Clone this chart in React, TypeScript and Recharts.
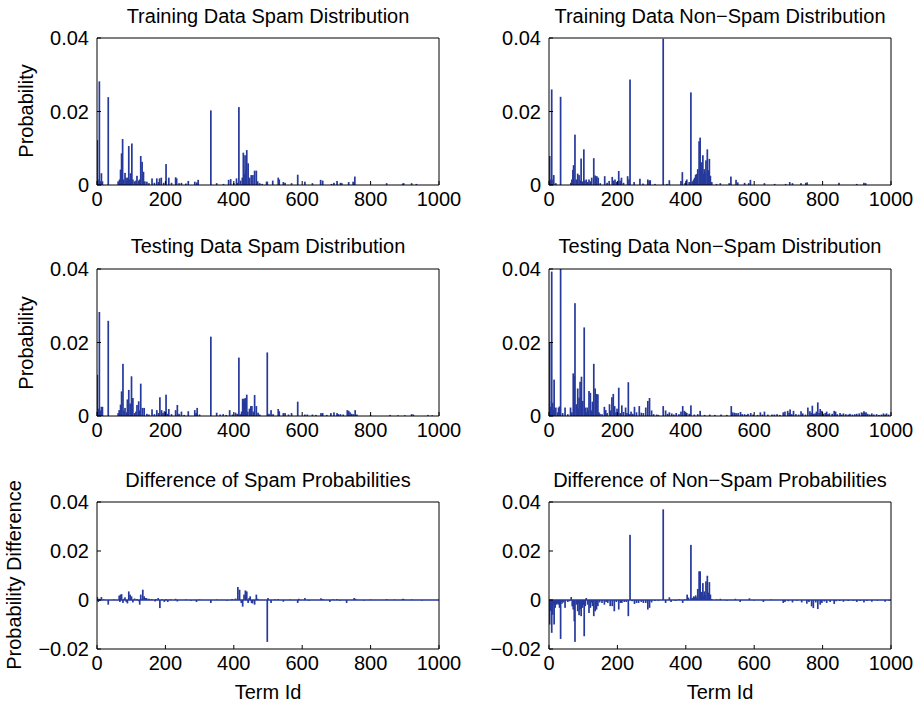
import React from 'react';
import { BarChart, Bar, XAxis, YAxis, ReferenceLine } from 'recharts';

// ---------- axis ticks ----------
const termTicks = [0, 200, 400, 600, 800, 1000];
const probTicks = [0, 0.02, 0.04];
const diffTicks = [-0.02, 0, 0.02, 0.04];

// ---------- titles ----------
const titles = [
  'Training Data Spam Distribution',
  'Training Data Non\u2212Spam Distribution',
  'Testing Data Spam Distribution',
  'Testing Data Non\u2212Spam Distribution',
  'Difference of Spam Probabilities',
  'Difference of Non\u2212Spam Probabilities',
];

// ---------- data (term id, probability) ----------
const trainSpamIds = [1, 3, 7, 10, 13, 16, 33, 62, 66, 69, 72, 75, 78, 82, 85, 88, 90, 93, 95, 98, 102, 105, 110, 114, 117, 122, 125, 128, 132, 136, 140, 146, 152, 161, 168, 175, 180, 183, 188, 195, 202, 210, 218, 230, 233, 240, 247, 260, 267, 286, 292, 296, 333, 350, 370, 385, 391, 400, 408, 412, 415, 420, 425, 428, 430, 433, 436, 438, 442, 446, 451, 456, 461, 466, 470, 476, 483, 496, 498, 514, 530, 533, 545, 550, 569, 587, 608, 630, 654, 660, 686, 693, 702, 712, 716, 736, 749, 754, 847, 894, 897, 920, 934];
const trainSpamValues = [0.0122, 0.0015, 0.0282, 0.001, 0.0032, 0.001, 0.0239, 0.001, 0.0015, 0.0042, 0.0086, 0.0125, 0.0015, 0.0033, 0.002, 0.0012, 0.002, 0.0106, 0.0015, 0.0032, 0.0113, 0.0015, 0.001, 0.0012, 0.0025, 0.0012, 0.0015, 0.0079, 0.0063, 0.0036, 0.001, 0.0009, 0.0005, 0.0018, 0.0006, 0.0018, 0.0008, 0.0018, 0.002, 0.0006, 0.0057, 0.002, 0.0006, 0.0021, 0.0018, 0.0005, 0.0006, 0.0004, 0.0011, 0.0009, 0.0007, 0.0014, 0.0203, 0.0005, 0.0003, 0.0014, 0.0016, 0.0005, 0.0018, 0.0006, 0.0212, 0.0012, 0.002, 0.0088, 0.003, 0.0081, 0.004, 0.0095, 0.0059, 0.002, 0.0027, 0.0027, 0.0039, 0.0039, 0.001, 0.0005, 0.0003, 0.0009, 0.0009, 0.0012, 0.002, 0.0015, 0.0008, 0.0006, 0.0005, 0.0028, 0.0009, 0.0005, 0.0014, 0.0012, 0.0003, 0.0006, 0.0011, 0.0006, 0.0005, 0.0008, 0.0009, 0.0023, 0.0005, 0.0004, 0.0005, 0.0005, 0.0003];

const trainNonSpamIds = [2, 5, 8, 12, 14, 20, 34, 64, 67, 70, 72, 76, 80, 84, 88, 91, 94, 98, 102, 105, 109, 113, 117, 121, 125, 131, 135, 140, 144, 150, 163, 170, 176, 185, 189, 193, 198, 204, 208, 212, 218, 230, 234, 237, 249, 266, 275, 289, 293, 296, 310, 334, 345, 352, 386, 390, 398, 403, 410, 415, 419, 423, 426, 429, 432, 435, 439, 442, 446, 450, 452, 454, 457, 459, 463, 466, 469, 472, 476, 490, 501, 527, 532, 547, 552, 572, 584, 589, 630, 660, 692, 704, 712, 737, 751, 755, 848, 900, 921, 926];
const trainNonSpamValues = [0.0079, 0.0015, 0.026, 0.0015, 0.0027, 0.0005, 0.024, 0.0006, 0.0015, 0.0041, 0.0054, 0.0137, 0.0015, 0.0031, 0.0027, 0.0012, 0.0072, 0.001, 0.0097, 0.0012, 0.0015, 0.0008, 0.0015, 0.001, 0.002, 0.0073, 0.0026, 0.0024, 0.002, 0.0005, 0.0024, 0.0006, 0.0011, 0.0022, 0.0012, 0.0015, 0.0008, 0.0038, 0.0012, 0.002, 0.0006, 0.0024, 0.0015, 0.0287, 0.0008, 0.0017, 0.0004, 0.0015, 0.0012, 0.0013, 0.0003, 0.0398, 0.0003, 0.0013, 0.0011, 0.0035, 0.0005, 0.0015, 0.0008, 0.0252, 0.001, 0.0015, 0.002, 0.0028, 0.003, 0.0043, 0.0119, 0.0129, 0.0062, 0.0081, 0.003, 0.0043, 0.0035, 0.0067, 0.0097, 0.004, 0.0071, 0.0025, 0.0008, 0.0003, 0.0005, 0.0005, 0.0023, 0.0014, 0.0007, 0.0006, 0.0005, 0.0014, 0.0005, 0.0003, 0.0003, 0.0008, 0.0005, 0.0005, 0.0006, 0.0007, 0.0006, 0.0003, 0.0006, 0.0005];

const testSpamIds = [1, 4, 7, 10, 13, 16, 33, 62, 65, 69, 72, 76, 79, 82, 86, 89, 93, 97, 101, 105, 110, 114, 117, 122, 125, 128, 133, 138, 146, 152, 161, 168, 175, 180, 184, 189, 193, 197, 202, 206, 210, 218, 230, 235, 240, 247, 255, 267, 286, 290, 293, 300, 333, 350, 360, 369, 378, 388, 396, 405, 410, 415, 419, 423, 426, 428, 430, 432, 434, 436, 438, 441, 446, 450, 453, 457, 461, 466, 471, 476, 498, 503, 509, 515, 530, 533, 545, 550, 560, 569, 587, 608, 615, 630, 640, 655, 660, 672, 684, 693, 702, 706, 712, 720, 732, 736, 740, 745, 750, 755, 760, 800, 857, 880, 900, 920, 925, 968, 980];
const testSpamValues = [0.0112, 0.002, 0.0283, 0.0015, 0.0025, 0.0025, 0.0259, 0.0008, 0.0016, 0.0031, 0.0067, 0.0142, 0.0015, 0.0022, 0.001, 0.0045, 0.0071, 0.0034, 0.0108, 0.0049, 0.0008, 0.0012, 0.003, 0.004, 0.0015, 0.0088, 0.0022, 0.0022, 0.0006, 0.0004, 0.0018, 0.0005, 0.0016, 0.0008, 0.0051, 0.0016, 0.0008, 0.0013, 0.0058, 0.0006, 0.0019, 0.0005, 0.0016, 0.003, 0.0006, 0.0012, 0.0003, 0.0013, 0.0016, 0.0008, 0.0022, 0.0004, 0.0216, 0.0009, 0.0004, 0.0005, 0.0003, 0.0016, 0.0004, 0.0009, 0.0006, 0.0159, 0.0005, 0.0012, 0.0047, 0.0045, 0.0047, 0.004, 0.0049, 0.003, 0.0058, 0.0012, 0.002, 0.0027, 0.0027, 0.0012, 0.0057, 0.0027, 0.0009, 0.0004, 0.0173, 0.0006, 0.0016, 0.0005, 0.0019, 0.0013, 0.0008, 0.0008, 0.0004, 0.0008, 0.0039, 0.0004, 0.0004, 0.0004, 0.0003, 0.0008, 0.0008, 0.0003, 0.0008, 0.001, 0.0008, 0.0005, 0.0005, 0.0004, 0.0016, 0.0014, 0.001, 0.0006, 0.0005, 0.0016, 0.0004, 0.0002, 0.0003, 0.0002, 0.0002, 0.0005, 0.0004, 0.0003, 0.0002];

const testNonSpamIds = [1, 2, 5, 8, 11, 13, 15, 17, 20, 25, 28, 31, 34, 40, 47, 55, 63, 67, 71, 74, 76, 80, 84, 86, 88, 91, 95, 97, 99, 103, 107, 110, 112, 115, 117, 121, 124, 127, 131, 135, 139, 143, 146, 149, 155, 162, 166, 170, 177, 180, 184, 188, 192, 196, 199, 204, 208, 213, 218, 224, 228, 232, 236, 240, 245, 250, 256, 264, 270, 276, 283, 289, 294, 300, 306, 315, 320, 334, 341, 347, 352, 359, 365, 372, 380, 386, 391, 396, 403, 410, 415, 425, 435, 442, 455, 470, 485, 503, 520, 533, 537, 542, 547, 553, 560, 565, 572, 578, 582, 590, 597, 610, 618, 624, 630, 640, 652, 659, 667, 675, 685, 690, 698, 702, 705, 710, 715, 722, 730, 737, 742, 750, 757, 763, 767, 770, 774, 778, 782, 786, 790, 793, 798, 803, 808, 812, 816, 820, 828, 834, 838, 843, 851, 856, 861, 868, 875, 880, 887, 894, 900, 907, 914, 918, 921, 924, 927, 932, 938, 944, 950, 958, 965, 972, 978, 983, 987, 993];
const testNonSpamValues = [0.004, 0.0199, 0.0025, 0.0393, 0.0036, 0.0015, 0.0099, 0.002, 0.0023, 0.001, 0.0023, 0.0026, 0.04, 0.0008, 0.0023, 0.0005, 0.0023, 0.001, 0.0116, 0.0108, 0.0307, 0.0032, 0.0075, 0.002, 0.005, 0.0093, 0.0107, 0.003, 0.0041, 0.0241, 0.0023, 0.001, 0.0023, 0.0015, 0.0068, 0.0063, 0.0015, 0.0039, 0.0142, 0.0075, 0.006, 0.0059, 0.001, 0.0006, 0.0005, 0.0025, 0.0016, 0.0008, 0.0032, 0.0015, 0.0051, 0.006, 0.0027, 0.001, 0.002, 0.0077, 0.0008, 0.0029, 0.0011, 0.0023, 0.0008, 0.0092, 0.0005, 0.0012, 0.0006, 0.0025, 0.001, 0.0027, 0.0009, 0.0008, 0.0023, 0.0041, 0.0049, 0.0015, 0.0005, 0.0004, 0.0003, 0.0027, 0.0015, 0.0006, 0.001, 0.0007, 0.0004, 0.0008, 0.0005, 0.0012, 0.0027, 0.0014, 0.0008, 0.0006, 0.0029, 0.0004, 0.0005, 0.0014, 0.0003, 0.0004, 0.0003, 0.0004, 0.0003, 0.0027, 0.001, 0.0009, 0.0008, 0.0008, 0.0011, 0.0005, 0.0005, 0.0003, 0.0006, 0.0008, 0.0004, 0.0003, 0.001, 0.0004, 0.0012, 0.0004, 0.0004, 0.0004, 0.0005, 0.0003, 0.001, 0.0012, 0.0014, 0.0008, 0.0018, 0.0005, 0.0014, 0.0005, 0.0004, 0.0013, 0.0007, 0.0004, 0.0023, 0.0013, 0.0008, 0.0028, 0.0006, 0.0007, 0.0012, 0.0037, 0.0008, 0.0019, 0.0014, 0.0006, 0.0008, 0.0012, 0.0005, 0.0007, 0.0006, 0.0014, 0.0012, 0.0005, 0.0008, 0.0004, 0.0007, 0.0005, 0.0004, 0.0006, 0.0004, 0.0005, 0.0006, 0.0007, 0.001, 0.0008, 0.0013, 0.0009, 0.001, 0.0006, 0.0004, 0.0007, 0.0004, 0.0005, 0.0003, 0.0004, 0.0007, 0.0004, 0.0007, 0.0004];

const diffSpamIds = [1, 4, 7, 10, 13, 20, 33, 50, 65, 67, 69, 72, 76, 79, 82, 86, 89, 93, 97, 101, 105, 110, 117, 122, 125, 128, 134, 138, 142, 145, 152, 160, 170, 172, 179, 184, 190, 197, 202, 207, 215, 230, 235, 260, 275, 291, 300, 333, 350, 380, 395, 405, 412, 417, 422, 426, 430, 434, 438, 442, 445, 448, 452, 455, 461, 466, 470, 498, 500, 509, 520, 530, 545, 565, 587, 590, 608, 620, 655, 660, 681, 690, 702, 710, 730, 752, 756, 780, 800, 847, 870, 894, 897, 920, 950];
const diffSpamValues = [0.0012, -0.0008, 0.0005, -0.0004, 0.0012, 0.0003, -0.0019, 0.0002, 0.0018, -0.0008, 0.0022, 0.0024, -0.0012, 0.0005, 0.0011, -0.0008, -0.0014, 0.0035, 0.0022, 0.0015, -0.001, 0.0006, 0.0004, -0.0005, -0.0019, 0.0022, 0.0042, 0.0015, 0.0008, 0.0008, 0.0005, 0.0004, -0.0006, 0.0004, 0.0008, -0.0033, 0.0003, -0.0008, 0.0004, -0.0008, 0.0003, 0.0005, -0.0006, 0.0002, -0.0003, -0.0008, 0.0002, -0.0012, 0.0002, -0.0003, 0.0004, 0.0006, 0.0053, 0.0042, -0.0012, -0.0027, 0.0022, 0.0039, 0.0035, -0.0012, 0.0008, 0.0015, -0.0012, -0.0014, -0.0019, 0.0022, 0.0005, -0.0171, 0.0008, -0.0012, 0.0003, 0.0004, -0.0007, 0.0002, -0.0012, 0.0005, 0.0008, -0.0003, 0.0007, 0.0004, -0.0008, 0.0003, 0.0004, -0.0003, -0.0012, 0.0008, 0.0005, -0.0002, 0.0002, 0.0004, 0.0002, 0.0005, 0.0004, 0.0002, -0.0002];

const diffNonSpamIds = [1, 2, 5, 8, 11, 13, 15, 18, 22, 25, 28, 31, 34, 38, 42, 47, 55, 60, 65, 68, 71, 74, 76, 80, 84, 86, 88, 91, 94, 98, 101, 103, 106, 109, 113, 117, 121, 124, 127, 131, 135, 139, 143, 148, 155, 162, 167, 172, 179, 185, 191, 197, 204, 209, 213, 220, 226, 232, 237, 243, 250, 256, 262, 270, 276, 283, 289, 294, 300, 310, 320, 334, 341, 352, 357, 370, 380, 391, 398, 404, 408, 415, 419, 423, 426, 429, 432, 435, 439, 442, 446, 450, 452, 454, 457, 459, 463, 466, 469, 472, 476, 490, 501, 520, 545, 559, 586, 600, 627, 650, 685, 690, 700, 712, 725, 739, 754, 760, 768, 773, 780, 786, 793, 798, 805, 812, 822, 834, 840, 850, 861, 875, 890, 900, 910, 921, 930, 944, 960, 983, 995];
const diffNonSpamValues = [-0.004, -0.01, -0.0045, -0.0134, -0.006, -0.002, -0.01, -0.0032, -0.0019, -0.0015, -0.0019, -0.0032, -0.0159, -0.0015, -0.001, -0.0032, -0.0008, -0.0005, 0.0012, -0.0026, -0.0039, -0.0087, -0.0171, -0.0019, -0.0046, -0.0015, -0.0062, -0.0039, -0.0066, -0.0032, -0.002, -0.0148, -0.0025, 0.0008, -0.0019, -0.0053, -0.0032, -0.001, -0.0025, -0.0066, -0.0046, -0.0039, -0.0025, -0.001, -0.0012, -0.0019, -0.0008, -0.0012, -0.0025, -0.0025, -0.0046, -0.0008, -0.0039, -0.0012, -0.0012, -0.0008, -0.0008, -0.0066, 0.0266, -0.0005, -0.0016, -0.0012, -0.0012, -0.0008, -0.0012, -0.0012, -0.0039, -0.0032, -0.001, -0.0004, -0.0003, 0.037, -0.0012, 0.0011, -0.0008, -0.0004, 0.0003, -0.0012, 0.0003, 0.0022, 0.001, 0.0225, 0.0008, 0.0015, 0.0012, 0.0019, 0.001, 0.0045, 0.0117, 0.0117, 0.0033, 0.0069, 0.0018, 0.0035, 0.002, 0.0076, 0.0099, 0.003, 0.0073, 0.0022, 0.0004, 0.0003, 0.0005, -0.0003, 0.0005, -0.0008, 0.0007, -0.0002, -0.0008, 0.0002, -0.0012, -0.0008, -0.0005, -0.001, -0.0003, -0.001, -0.0015, -0.0008, -0.0026, -0.0033, -0.001, -0.0037, -0.0019, -0.0012, -0.0006, -0.0012, -0.0008, -0.0016, -0.0005, -0.0004, -0.0007, -0.0004, -0.0003, -0.0008, -0.0004, -0.001, -0.0004, -0.0007, -0.0003, -0.0007, -0.0003];

// ---------- helpers ----------
const BLUE = '#26399c';
const FONT = '"Liberation Sans", Arial, Helvetica, sans-serif';
const toRows = (ids: number[], values: number[]) => ids.map((id, i) => ({ term: id, p: values[i] }));
const fmtY = (v: number) => (v === 0 ? '0' : v < 0 ? '\u2212' + Math.abs(v).toFixed(2) : v.toFixed(2));

const COL_LEFT = [97, 549];
const ROW_TOP = [38, 269, 502];
const PLOT_W = 342;
const PLOT_H = 147;
const YW = 80;
const XH = 40;
const MT = 16;
const MR = 30;
const SPIKE_W = 1.7;

// Spike shape: keeps the x/y/height computed by the Bar from the axis scales,
// only fixes the drawn width so narrow numeric bands stay visible.
const Spike = (props: any) => {
  const { x, y, width, height, fill } = props;
  if (x == null || y == null || height == null) return null;
  const cx = x + (width || 0) / 2;
  const top = Math.min(y, y + height);
  const h = Math.max(Math.abs(height), 0.6);
  return <rect x={cx - SPIKE_W / 2} y={top} width={SPIKE_W} height={h} fill={fill} />;
};

type PanelProps = {
  left: number;
  top: number;
  rows: { term: number; p: number }[];
  ticks: number[];
  domain: [number, number];
  diff?: boolean;
};

function Panel({ left, top, rows, ticks, domain, diff }: PanelProps) {
  return (
    <div style={{ position: 'absolute', left: left - YW, top: top - 1 - MT }}>
      <BarChart
        width={YW + PLOT_W + 1 + MR}
        height={MT + 1 + PLOT_H + XH}
        data={rows}
        margin={{ top: MT, right: MR, bottom: 0, left: 0 }}
      >
        <XAxis
          xAxisId="b"
          dataKey="term"
          type="number"
          domain={[0, 1000]}
          ticks={termTicks}
          interval={0}
          allowDataOverflow
          height={XH}
          tickSize={-4}
          tickMargin={11}
          axisLine={{ stroke: '#000' }}
          tickLine={{ stroke: '#000' }}
          tick={{ fill: '#000', fontSize: 20, fontFamily: FONT }}
        />
        <XAxis
          xAxisId="t"
          orientation="top"
          type="number"
          domain={[0, 1000]}
          ticks={termTicks}
          interval={0}
          height={1}
          tickSize={-4}
          tick={false}
          axisLine={{ stroke: '#000' }}
          tickLine={{ stroke: '#000' }}
        />
        <YAxis
          yAxisId="l"
          type="number"
          domain={domain}
          ticks={ticks}
          interval={0}
          allowDataOverflow
          width={YW}
          tickSize={-4}
          tickMargin={12}
          tickFormatter={fmtY}
          axisLine={{ stroke: '#000' }}
          tickLine={{ stroke: '#000' }}
          tick={{ fill: '#000', fontSize: 20, fontFamily: FONT }}
        />
        <YAxis
          yAxisId="r"
          orientation="right"
          type="number"
          domain={domain}
          ticks={ticks}
          interval={0}
          width={1}
          tickSize={-4}
          tick={false}
          axisLine={{ stroke: '#000' }}
          tickLine={{ stroke: '#000' }}
        />
        {diff && (
          <ReferenceLine xAxisId="b" yAxisId="l" y={0} stroke={BLUE} strokeWidth={1.6} />
        )}
        <Bar
          xAxisId="b"
          yAxisId="l"
          dataKey="p"
          fill={BLUE}
          barSize={2}
          shape={Spike}
          isAnimationActive={false}
        />
      </BarChart>
    </div>
  );
}

export default function App() {
  const panels = [
    { rows: toRows(trainSpamIds, trainSpamValues), ticks: probTicks, domain: [0, 0.04] as [number, number], diff: false },
    { rows: toRows(trainNonSpamIds, trainNonSpamValues), ticks: probTicks, domain: [0, 0.04] as [number, number], diff: false },
    { rows: toRows(testSpamIds, testSpamValues), ticks: probTicks, domain: [0, 0.04] as [number, number], diff: false },
    { rows: toRows(testNonSpamIds, testNonSpamValues), ticks: probTicks, domain: [0, 0.04] as [number, number], diff: false },
    { rows: toRows(diffSpamIds, diffSpamValues), ticks: diffTicks, domain: [-0.02, 0.04] as [number, number], diff: true },
    { rows: toRows(diffNonSpamIds, diffNonSpamValues), ticks: diffTicks, domain: [-0.02, 0.04] as [number, number], diff: true },
  ];
  const titleBase = [23, 253, 487];
  return (
    <div
      style={{
        position: 'absolute',
        left: 0,
        top: 0,
        width: 919,
        height: 710,
        background: '#fff',
        fontFamily: FONT,
      }}
    >
      {panels.map((p, i) => (
        <Panel
          key={i}
          left={COL_LEFT[i % 2]}
          top={ROW_TOP[Math.floor(i / 2)]}
          rows={p.rows}
          ticks={p.ticks}
          domain={p.domain}
          diff={p.diff}
        />
      ))}
      <svg
        width={919}
        height={710}
        style={{ position: 'absolute', left: 0, top: 0, pointerEvents: 'none' }}
        fontFamily={FONT}
      >
        {titles.map((t, i) => (
          <text
            key={t}
            x={COL_LEFT[i % 2] + PLOT_W / 2}
            y={titleBase[Math.floor(i / 2)]}
            textAnchor="middle"
            fontSize={20}
            fill="#000"
          >
            {t}
          </text>
        ))}
        <text transform="translate(33,111) rotate(-90)" textAnchor="middle" fontSize={20} fill="#000">
          Probability
        </text>
        <text transform="translate(33,343) rotate(-90)" textAnchor="middle" fontSize={20} fill="#000">
          Probability
        </text>
        <text transform="translate(21,575) rotate(-90)" textAnchor="middle" fontSize={20} fill="#000">
          Probability Difference
        </text>
        <text x={COL_LEFT[0] + PLOT_W / 2} y={699} textAnchor="middle" fontSize={20} fill="#000">
          Term Id
        </text>
        <text x={COL_LEFT[1] + PLOT_W / 2} y={699} textAnchor="middle" fontSize={20} fill="#000">
          Term Id
        </text>
      </svg>
    </div>
  );
}
